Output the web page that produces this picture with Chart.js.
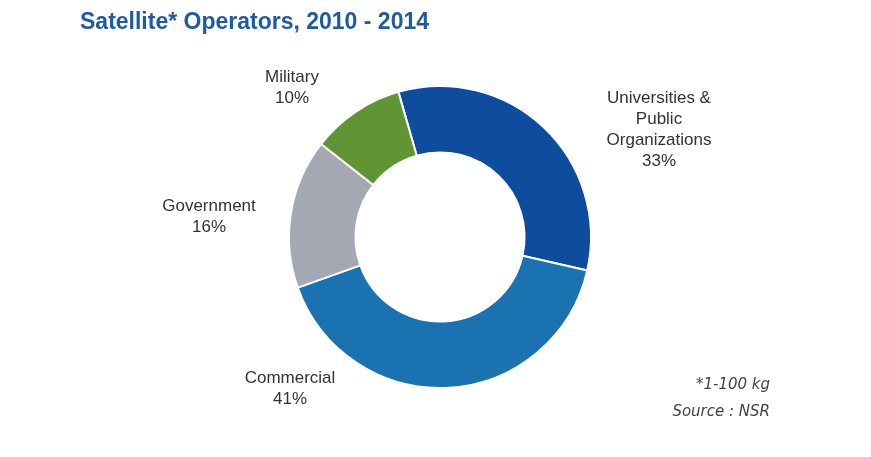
<!DOCTYPE html>
<html><head><meta charset="utf-8">
<script src="https://cdn.jsdelivr.net/npm/chart.js@4"></script>
<style>body{margin:0;background:#fff}</style>
</head><body>
<canvas id="c" width="871" height="457"></canvas>
<script>
// data
const categories = ['Universities & Public Organizations', 'Commercial', 'Government', 'Military'];
const shares = [33, 41, 16, 10];
const colors = ['#0e4d9d', '#1a72b0', '#a3a8b2', '#5f9533'];
// label text lines and offsets from donut centre
const labelLines = [['Universities &', 'Public', 'Organizations', '33%'], ['Commercial', '41%'], ['Government', '16%'], ['Military', '10%']];
const labelOffsets = [[219, -107], [-150, 152], [-231, -20], [-148, -149]];

const labelPlugin = {
  id: 'labels',
  afterDraw(chart) {
    const ctx = chart.ctx;
    const arc = chart.getDatasetMeta(0).data[0];
    const cx = arc.x, cy = arc.y;
    ctx.save();
    ctx.fillStyle = '#333';
    ctx.font = '17px "Liberation Sans", Arial, sans-serif';
    ctx.textAlign = 'center';
    ctx.textBaseline = 'middle';
    labelLines.forEach((lines, i) => {
      const x = cx + labelOffsets[i][0], y = cy + labelOffsets[i][1];
      const h = 21;
      lines.forEach((t, j) => ctx.fillText(t, x, y + (j - (lines.length - 1) / 2) * h));
    });
    // title
    ctx.textAlign = 'left';
    ctx.textBaseline = 'alphabetic';
    ctx.fillStyle = '#1f5aa6';
    ctx.font = 'bold 23px "Liberation Sans", Arial, sans-serif';
    ctx.fillText('Satellite* Operators, 2010 - 2014', 80, 29);
    // footnote
    ctx.textAlign = 'right';
    ctx.fillStyle = '#444';
    ctx.font = 'italic 15px "DejaVu Sans", sans-serif';
    ctx.fillText('*1-100 kg', 770, 389);
    ctx.fillText('Source : NSR', 770, 416);
    ctx.restore();
  }
};

new Chart(document.getElementById('c'), {
  type: 'doughnut',
  data: {
    labels: categories,
    datasets: [{
      data: shares,
      backgroundColor: colors,
      borderColor: '#fff',
      borderWidth: 2
    }]
  },
  options: {
    responsive: false,
    animation: false,
    rotation: -16,
    cutout: '56%',
    layout: { padding: { top: 85, bottom: 68, left: 288, right: 279 } },
    plugins: { legend: { display: false }, tooltip: { enabled: false } }
  },
  plugins: [labelPlugin]
});
</script>
</body></html>
